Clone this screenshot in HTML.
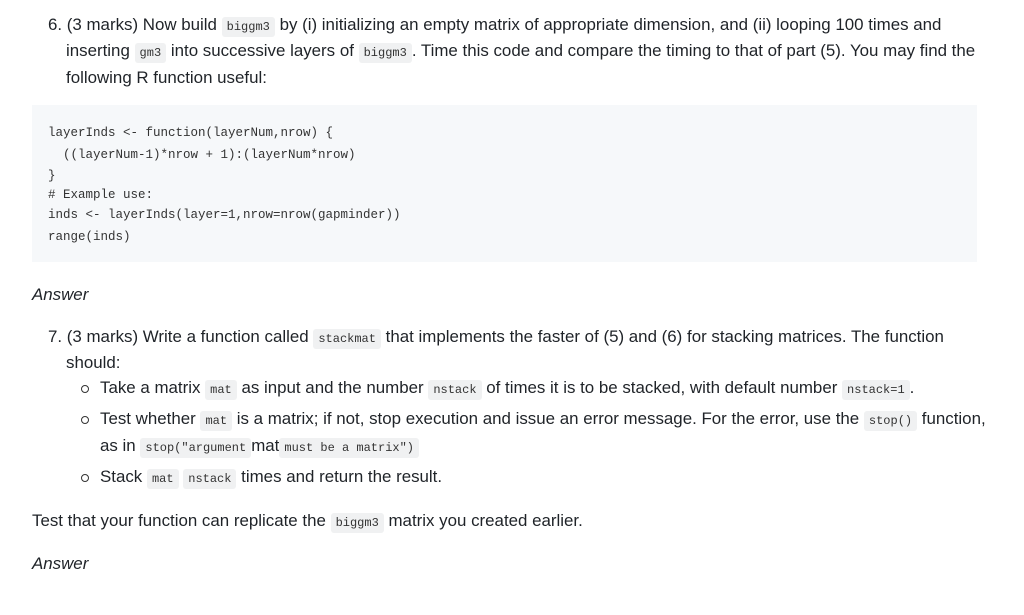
<!DOCTYPE html>
<html><head><meta charset="utf-8"><style>
body{margin:0;width:1024px;height:615px;background:#fff;position:relative;overflow:hidden;font-family:"Liberation Sans",sans-serif;color:#1f2328;font-size:16.9px}
.l{position:absolute;white-space:nowrap;line-height:20px}
code{font-family:"Liberation Mono",monospace;font-size:12px;background:#f0f1f2;padding:3px 5px;border-radius:3px;color:#333}
.pre{position:absolute;left:32px;top:105px;width:945px;height:157px;background:#f6f8fa}
.c{position:absolute;left:48px;font-family:"Liberation Mono",monospace;font-size:12.5px;color:#333;white-space:pre;line-height:20px}
.b{position:absolute;width:6px;height:6px;border:1px solid #333;border-radius:50%}
i{font-style:italic}
</style></head><body>
<div class="l" style="left:48px;top:15px">6. (3 marks) Now build <code>biggm3</code> by (i) initializing an empty matrix of appropriate dimension, and (ii) looping 100 times and</div>
<div class="l" style="left:66px;top:41px">inserting <code>gm3</code> into successive layers of <code>biggm3</code>. Time this code and compare the timing to that of part (5). You may find the</div>
<div class="l" style="left:66px;top:68px">following R function useful:</div>
<div class="pre"></div>
<div class="c" style="top:123px">layerInds &lt;- function(layerNum,nrow) {</div>
<div class="c" style="top:145px">  ((layerNum-1)*nrow + 1):(layerNum*nrow)</div>
<div class="c" style="top:166px">}</div>
<div class="c" style="top:185px"># Example use:</div>
<div class="c" style="top:205px">inds &lt;- layerInds(layer=1,nrow=nrow(gapminder))</div>
<div class="c" style="top:227px">range(inds)</div>
<div class="l" style="left:32px;top:285px"><i>Answer</i></div>
<div class="l" style="left:48px;top:327px">7. (3 marks) Write a function called <code>stackmat</code> that implements the faster of (5) and (6) for stacking matrices. The function</div>
<div class="l" style="left:66px;top:353px">should:</div>
<div class="b" style="left:81px;top:385px"></div>
<div class="l" style="left:100px;top:378px">Take a matrix <code>mat</code> as input and the number <code>nstack</code> of times it is to be stacked, with default number <code>nstack=1</code>.</div>
<div class="b" style="left:81px;top:416px"></div>
<div class="l" style="left:100px;top:409px">Test whether <code>mat</code> is a matrix; if not, stop execution and issue an error message. For the error, use the <code>stop()</code> function,</div>
<div class="l" style="left:100px;top:436px">as in <code>stop("argument</code>mat<code>must be a matrix")</code></div>
<div class="b" style="left:81px;top:474px"></div>
<div class="l" style="left:100px;top:467px">Stack <code>mat</code> <code>nstack</code> times and return the result.</div>
<div class="l" style="left:32px;top:511px">Test that your function can replicate the <code>biggm3</code> matrix you created earlier.</div>
<div class="l" style="left:32px;top:554px"><i>Answer</i></div>
</body></html>
